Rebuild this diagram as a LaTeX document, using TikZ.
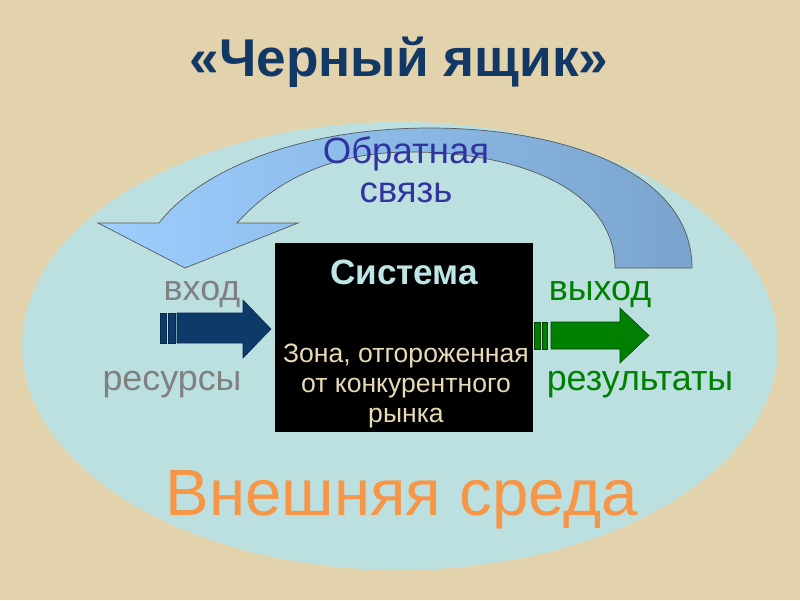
\documentclass[tikz,border=0pt]{standalone}
\usepackage{fontspec}
\setmainfont{Liberation Sans}
\usepackage{xcolor}
\definecolor{bgbeige}{RGB}{227,211,172}
\definecolor{envcyan}{RGB}{188,224,224}
\definecolor{titlenavy}{RGB}{18,56,102}
\definecolor{fbblue}{RGB}{51,51,160}
\definecolor{fblight}{RGB}{156,206,255}
\definecolor{fbdark}{RGB}{122,164,204}
\definecolor{inpnavy}{RGB}{12,58,105}
\definecolor{outgreen}{RGB}{0,128,0}
\definecolor{sysbeige}{RGB}{232,218,180}
\definecolor{syscyan}{RGB}{190,230,230}
\definecolor{envorange}{RGB}{246,150,70}

\begin{document}
\begin{tikzpicture}[x=0.025cm,y=-0.025cm]
\tikzset{
  lbl/.style={font=\fontsize{25.5}{29}\selectfont},
  titlefont/.style={font=\bfseries\fontsize{37.8}{40}\selectfont},
  inarrow/.style={fill=inpnavy, draw=inpnavy!70!black, line width=0.4pt},
  outarrow/.style={fill=outgreen, draw=outgreen!50!black, line width=0.4pt},
}
\fill[bgbeige] (0,0) rectangle (800,600);
\fill[envcyan] (400,346) ellipse [x radius=378, y radius=224];
\node[titlefont, text=titlenavy] (title) at (399,62) {«Черный ящик»};
% feedback arrow
\path[draw=black!65, line width=0.5pt, left color=fblight, right color=fbdark]
  (692,268) .. controls (692,170) and (560,128) .. (430,128)
  .. controls (300,128) and (200,170) .. (159,223)
  -- (98,223) -- (185,268) -- (298,223) -- (237,223)
  .. controls (280,175) and (340,152) .. (410,152)
  .. controls (520,152) and (615,190) .. (615,268) -- cycle;
\node[font=\fontsize{26}{30}\selectfont, text=fbblue, align=center] (fb) at (406,170) {Обратная\\[-2pt]связь};
% system
\node[fill=black, minimum width=258*0.025cm, minimum height=189*0.025cm, inner sep=0pt] (sys) at (404,337.5) {};
\node[font=\bfseries\fontsize{25}{29}\selectfont, text=syscyan] (systitle) at (404,272) {Система};
\node[font=\fontsize{18.9}{21.5}\selectfont, text=sysbeige, align=center] (sysdesc) at (406,386) {Зона, отгороженная\\от конкурентного\\рынка};
% input arrow
\fill[inarrow] (160.5,313) rectangle (166,343);
\fill[inarrow] (168.5,313) rectangle (175,343);
\path[inarrow] (177,313) -- (243,313) -- (243,300) -- (271,329) -- (243,358) -- (243,343) -- (177,343) -- cycle;
\node[lbl, text=black!50] (inp) at (202,294) {вход};
\node[lbl, text=black!50] (res) at (172,385) {ресурсы};
% output arrow
\fill[outarrow] (534,322) rectangle (540,349);
\fill[outarrow] (542,322) rectangle (547,349);
\path[outarrow] (551,322) -- (620,322) -- (620,308) -- (649,335.5) -- (620,363) -- (620,349) -- (551,349) -- cycle;
\node[lbl, text=outgreen] (outp) at (600,294) {выход};
\node[lbl, text=outgreen] (rslt) at (640,385) {результаты};
\node[font=\fontsize{46.5}{50}\selectfont, text=envorange] (env) at (402,500) {Внешняя среда};
\end{tikzpicture}
\end{document}
